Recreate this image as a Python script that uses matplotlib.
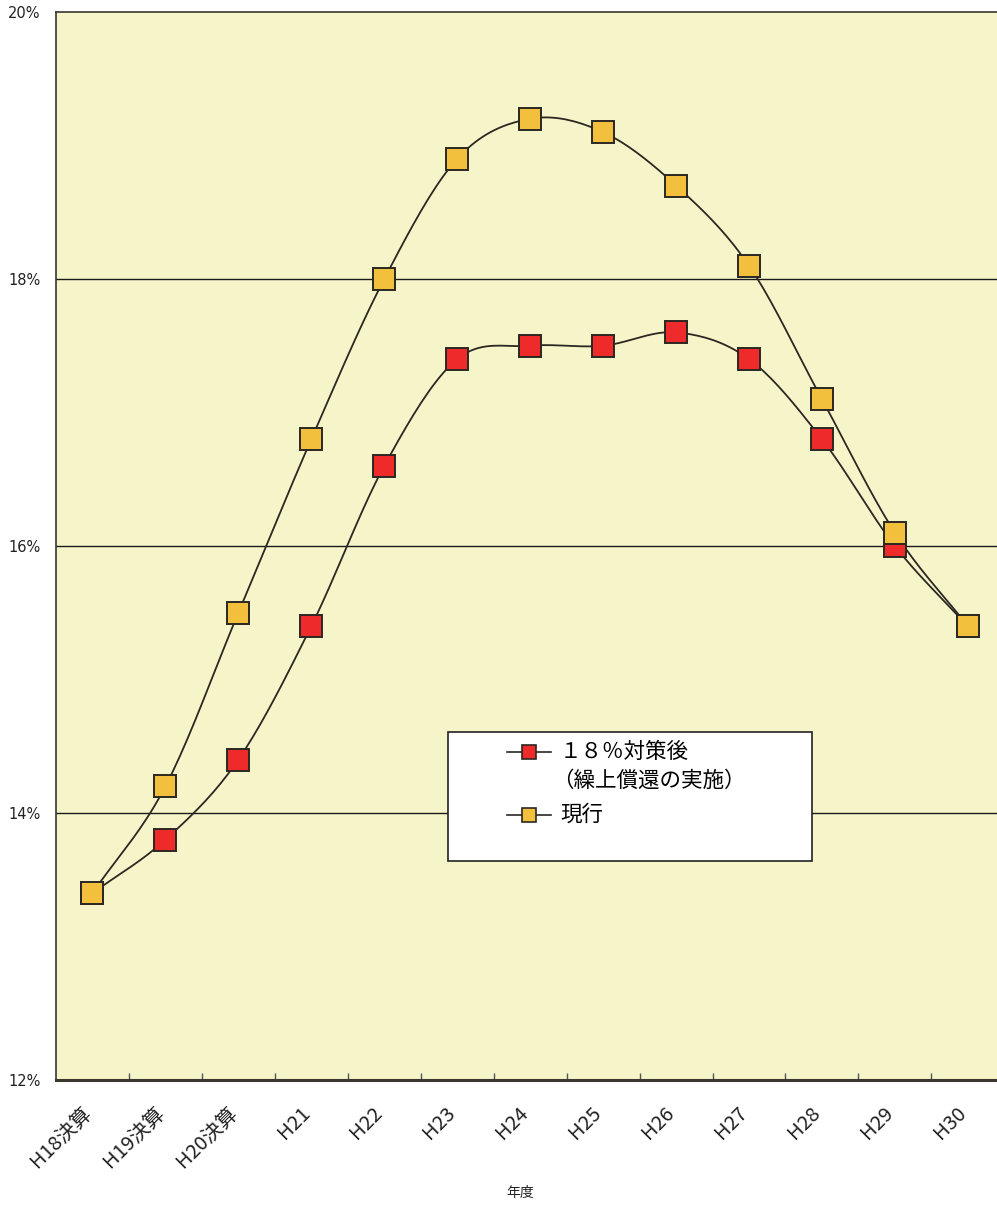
import matplotlib.pyplot as plt
import matplotlib.transforms as mtransforms
import numpy as np
from matplotlib.lines import Line2D
from matplotlib.patches import Rectangle

plt.rcParams['font.family'] = ['Noto Sans CJK JP', 'DejaVu Sans']

categories = ['H18決算', 'H19決算', 'H20決算', 'H21', 'H22', 'H23', 'H24',
              'H25', 'H26', 'H27', 'H28', 'H29', 'H30']
after_18 = [13.4, 13.8, 14.4, 15.4, 16.6, 17.4, 17.5, 17.5, 17.6, 17.4, 16.8, 16.0, 15.4]
current = [13.4, 14.2, 15.5, 16.8, 18.0, 18.9, 19.2, 19.1, 18.7, 18.1, 17.1, 16.1, 15.4]
y_ticks = [12, 14, 16, 18, 20]
y_labels = ['12%', '14%', '16%', '18%', '20%']
label_after = ['１８％対策後', '（繰上償還の実施）']
label_current = '現行'

RED = '#ee2a2a'
ORANGE = '#f3c03d'
EDGE = '#2b2722'


def smooth(y, n=20):
    # Catmull-Rom, close to Excel's "smoothed line"
    x = np.arange(len(y), dtype=float)
    y = np.asarray(y, dtype=float)
    px = np.concatenate([[2 * x[0] - x[1]], x, [2 * x[-1] - x[-2]]])
    py = np.concatenate([[2 * y[0] - y[1]], y, [2 * y[-1] - y[-2]]])
    xs, ys = [], []
    t = np.linspace(0, 1, n, endpoint=False)
    for i in range(1, len(px) - 2):
        for p, out in ((px, xs), (py, ys)):
            p0, p1, p2, p3 = p[i - 1], p[i], p[i + 1], p[i + 2]
            out.extend(0.5 * (2 * p1 + (-p0 + p2) * t
                              + (2 * p0 - 5 * p1 + 4 * p2 - p3) * t ** 2
                              + (-p0 + 3 * p1 - 3 * p2 + p3) * t ** 3))
    xs.append(x[-1]); ys.append(y[-1])
    return np.array(xs), np.array(ys)


W, H = 997, 1206
fig = plt.figure(figsize=(W / 100, H / 100), dpi=100)
ax = fig.add_axes([56 / W, 1 - 1080 / H, 1 - 56 / W, (1080 - 12) / H])
ax.set_facecolor('#f6f5c9')

X = np.arange(len(categories))
for vals, col in ((after_18, RED), (current, ORANGE)):
    sx, sy = smooth(vals)
    ax.plot(sx, sy, color=EDGE, lw=1.3, zorder=3)
    ax.plot(X, vals, ls='none', marker='s', ms=15.5, mfc=col, mec=EDGE, mew=1.4, zorder=4)

ax.set_xlim(-0.5, 12.4)
ax.set_ylim(12, 20)
ax.set_yticks(y_ticks)
ax.set_yticklabels(y_labels, fontsize=10.5, family='DejaVu Sans', color='#222')
ax.tick_params(axis='y', length=0, pad=11)
for v in y_ticks[1:-1]:
    ax.axhline(v, color='#1a1a1a', lw=1.0, zorder=1)

ax.set_xticks(X)
ax.set_xticklabels(categories, rotation=45, ha='right', rotation_mode='anchor', fontsize=14.5, color='#222')
ax.set_xticks(np.arange(len(categories) - 1) + 0.5, minor=True)
ax.tick_params(axis='x', which='major', length=0, pad=16)
ax.tick_params(axis='x', which='minor', direction='in', length=5, width=1, color='#555')
shift = mtransforms.ScaledTranslation(-0.12, 0, fig.dpi_scale_trans)
for lab in ax.get_xticklabels():
    lab.set_transform(lab.get_transform() + shift)
fig.text(520 / W, 1 - 1193 / H, '年度', fontsize=10, ha='center', va='center', color='#222')

for s in ax.spines.values():
    s.set_color('#3a3630')
    s.set_linewidth(1.2)
ax.spines['bottom'].set_linewidth(2.2)
ax.spines['right'].set_visible(False)

# legend box, drawn by hand so the handle sits on the first text line
fig.patches.append(Rectangle((448 / W, 1 - 861 / H), (812 - 448) / W, (861 - 732) / H,
                             transform=fig.transFigure, facecolor='white', edgecolor='#222',
                             lw=1.2, zorder=5))
for y_px, col in ((752, RED), (815, ORANGE)):
    fy = 1 - y_px / H
    fig.lines.append(Line2D([507 / W, 551 / W], [fy, fy], transform=fig.transFigure,
                            color=EDGE, lw=1.2, zorder=6))
    fig.lines.append(Line2D([529 / W], [fy], transform=fig.transFigure, marker='s', ms=10,
                            mfc=col, mec=EDGE, mew=1.2, zorder=7))
fig.text(560 / W, 1 - 752 / H, label_after[0], fontsize=15.5, va='center', zorder=8)
fig.text(552 / W, 1 - 781 / H, label_after[1], fontsize=15.5, va='center', zorder=8)
fig.text(560 / W, 1 - 815 / H, label_current, fontsize=15.5, va='center', zorder=8)

fig.savefig('out.png', dpi=100)
